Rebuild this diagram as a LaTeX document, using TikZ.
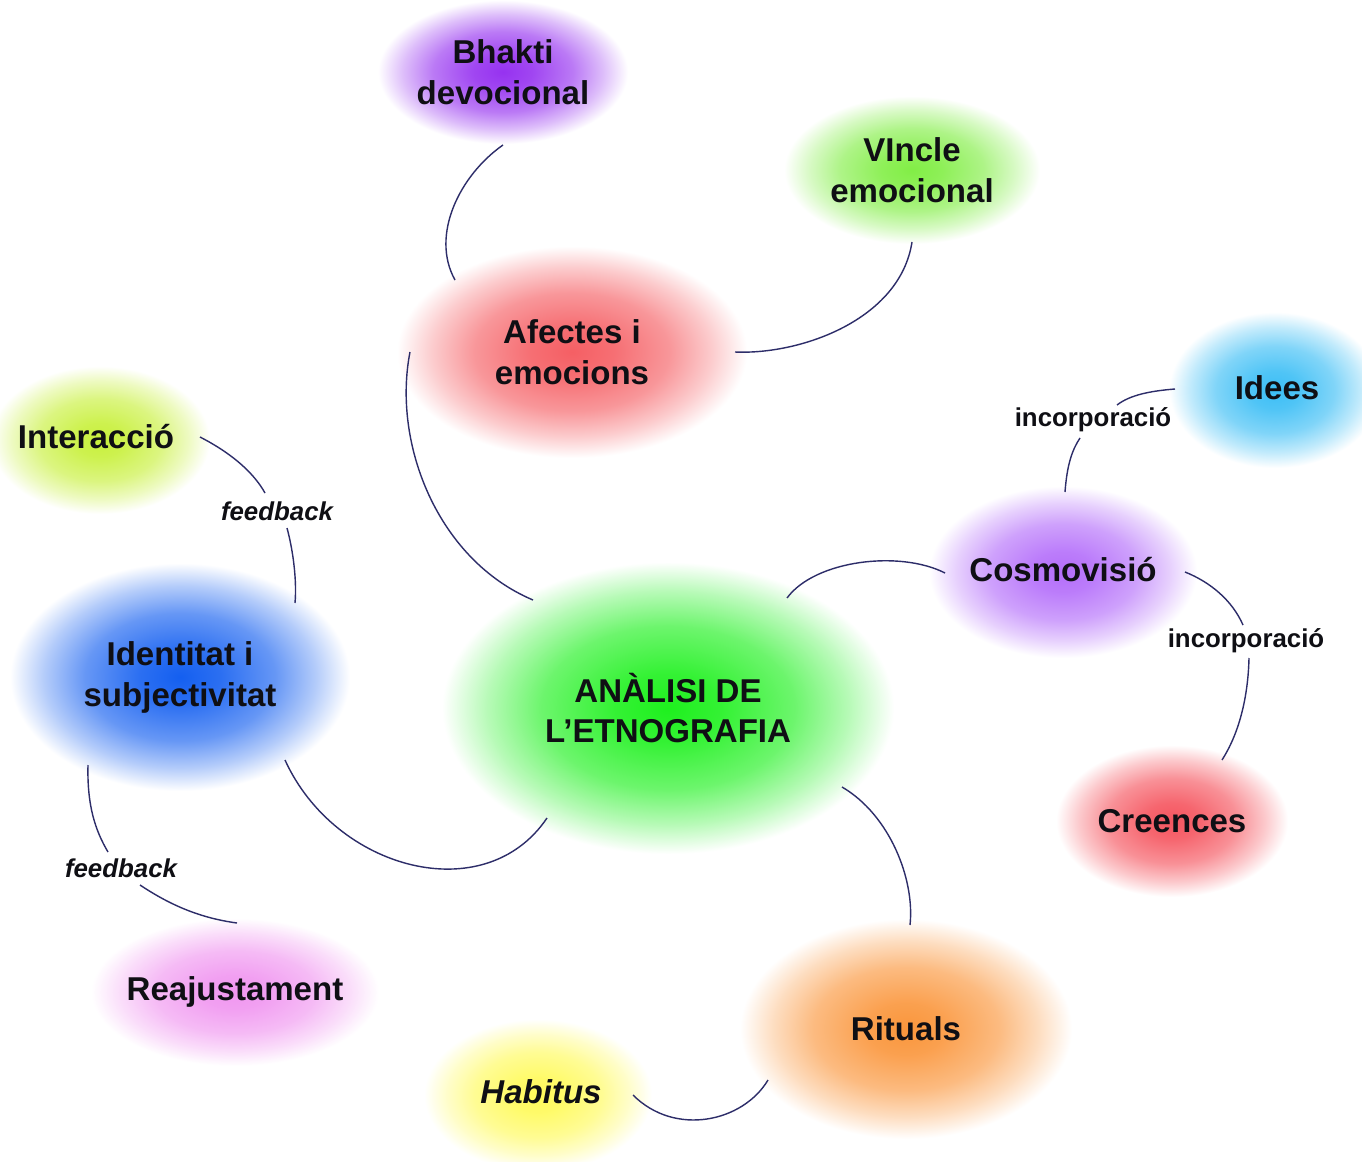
\documentclass[tikz,border=0pt]{standalone}
\usepackage{fontspec}
\setmainfont{Liberation Sans}
\usetikzlibrary{calc}
\pgfdeclarelayer{background}
\pgfsetlayers{background,main}
\definecolor{linec}{RGB}{45,45,105}
\definecolor{txt}{RGB}{15,15,20}
\colorlet{blobc}{red}
\pgfdeclareradialshading[blobc]{blob}{\pgfpointorigin}{color(0bp)=(blobc); color(6bp)=(blobc!90!white); color(14bp)=(blobc!65!white); color(20bp)=(blobc!32!white); color(25bp)=(white); color(50bp)=(white)}
\newcommand\myblob[4]{\definecolor{blobc}{RGB}{#1}\shade[shading=blob] #2 ellipse [x radius=#3, y radius=#4];}
\tikzset{
  lbl/.style={font=\fontsize{18.8}{23.3}\selectfont\bfseries, text=txt, align=center, inner sep=0pt},
  elbl/.style={font=\fontsize{14.7}{17}\selectfont\bfseries, text=txt, inner sep=0pt},
  conn/.style={draw=linec, line width=0.8pt}
}
\begin{document}
\begin{tikzpicture}[x=0.02cm, y=-0.02cm]
\useasboundingbox (0,0) rectangle (1362,1162);
\clip (0,0) rectangle (1362,1162);
% labels
\node[lbl] (bhakti) at (503,72) {Bhakti\\devocional};
\node[lbl] (vincle) at (912,170) {VIncle\\emocional};
\node[lbl] (afectes) at (572,352) {Afectes i\\emocions};
\node[lbl] (idees) at (1277,388) {Idees};
\node[lbl] (interaccio) at (96,437) {Interacció};
\node[lbl] (cosmo) at (1063,570) {Cosmovisió};
\node[lbl] (identitat) at (180,677) {Identitat i\\subjectivitat};
\node[lbl] (analisi) at (668,708) {ANÀLISI DE\\L’ETNOGRAFIA};
\node[lbl] (creences) at (1172,821) {Creences};
\node[lbl] (reajust) at (235,992) {Reajustament};
\node[lbl] (rituals) at (906,1029) {Rituals};
\node[lbl] (habitus) at (541,1092) {\itshape Habitus};
\node[elbl] (fb1) at (277,511) {\itshape feedback};
\node[elbl] (fb2) at (121,868) {\itshape feedback};
\node[elbl] (inc1) at (1093,420) {incorporació};
\node[elbl] (inc2) at (1246,641) {incorporació};
% blobs
\begin{pgfonlayer}{background}
\fill[white] (0,0) rectangle (1362,1162);
\begin{scope}[blend mode=multiply]
\myblob{150,50,240}{(bhakti)}{125}{72}
\myblob{130,238,70}{(vincle)}{128}{74}
\myblob{245,95,100}{(afectes)}{175}{106}
\myblob{60,190,245}{([shift={(-2,2)}]idees.center)}{106}{78}
\myblob{200,240,60}{([shift={(4,3)}]interaccio.center)}{110}{74}
\myblob{180,110,250}{([shift={(0,2)}]cosmo.center)}{134}{86}
\myblob{20,95,240}{(identitat)}{170}{114}
\myblob{30,240,30}{(analisi)}{226}{146}
\myblob{245,85,95}{(creences)}{116}{76}
\myblob{240,150,240}{(reajust)}{144}{74}
\myblob{250,150,60}{(rituals)}{166}{110}
\myblob{255,250,90}{([shift={(-3,3)}]habitus.center)}{114}{76}
\end{scope}
\end{pgfonlayer}
% connectors
\draw[conn] ([shift={(0,73)}]bhakti.center) .. controls +(-43,30) and +(-25,-45) .. ([shift={(-117,-72)}]afectes.center);
\draw[conn] ([shift={(0,72)}]vincle.center) .. controls +(-12,78) and +(65,3) .. ([shift={(163,0)}]afectes.center);
\draw[conn] ([shift={(-162,0)}]afectes.center) .. controls +(-18,92) and +(-95,-40) .. ([shift={(-135,-108)}]analisi.center);
\draw[conn] ([shift={(104,0)}]interaccio.center) .. controls +(35,18) and +(-10,-18) .. ([shift={(-12,-18)}]fb1.center);
\draw[conn] ([shift={(10,17)}]fb1.center) .. controls +(6,22) and +(2,-23) .. ([shift={(115,-74)}]identitat.center);
\draw[conn] ([shift={(-92,88)}]identitat.center) .. controls +(-1,40) and +(-13,-22) .. ([shift={(-13,-16)}]fb2.center);
\draw[conn] ([shift={(19,17)}]fb2.center) .. controls +(30,20) and +(-37,-5) .. ([shift={(2,-69)}]reajust.center);
\draw[conn] ([shift={(105,83)}]identitat.center) .. controls +(50,110) and +(-62,92) .. ([shift={(-121,110)}]analisi.center);
\draw[conn] ([shift={(119,-110)}]analisi.center) .. controls +(28,-38) and +(-45,-23) .. ([shift={(-118,3)}]cosmo.center);
\draw[conn] ([shift={(2,-78)}]cosmo.center) .. controls +(2,-27) and +(-8,12) .. ([shift={(-13,18)}]inc1.center);
\draw[conn] ([shift={(24,-15)}]inc1.center) .. controls +(13,-10) and +(-25,2) .. ([shift={(-102,1)}]idees.center);
\draw[conn] ([shift={(122,2)}]cosmo.center) .. controls +(25,10) and +(-11,-25) .. ([shift={(-3,-16)}]inc2.center);
\draw[conn] ([shift={(3,17)}]inc2.center) .. controls +(-1,42) and +(16,-25) .. ([shift={(50,-61)}]creences.center);
\draw[conn] ([shift={(174,79)}]analisi.center) .. controls +(48,28) and +(5,-45) .. ([shift={(4,-104)}]rituals.center);
\draw[conn] ([shift={(-138,51)}]rituals.center) .. controls +(-25,42) and +(42,42) .. ([shift={(92,3)}]habitus.center);
\end{tikzpicture}
\end{document}
